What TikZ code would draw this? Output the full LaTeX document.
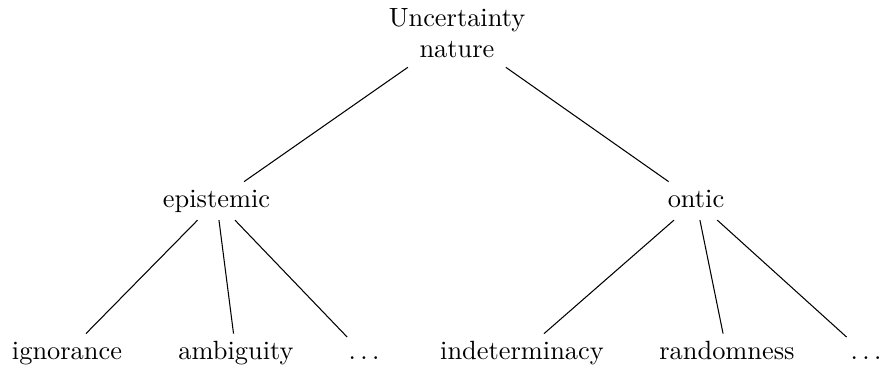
\documentclass[tikz,border=0pt]{standalone}
\begin{document}
\begin{tikzpicture}[x=0.379pt,y=-0.379pt,
  lbl/.style={anchor=base,inner sep=3.33pt,text height=1.5ex,text depth=.25ex},
  dotslbl/.style={lbl,text height=1.2ex},
  edge/.style={draw=black,line width=0.4pt}]
\useasboundingbox (0,0) rectangle (881,367);
\node[align=center,inner sep=3.33pt] (root) at (457,33) {Uncertainty\\nature};
\node[lbl] (epi) at (216.5,208) {epistemic};
\node[lbl] (ont) at (696,208) {ontic};
\node[lbl] (ign) at (67,360) {ignorance};
\node[lbl] (amb) at (236,360) {ambiguity};
\node[dotslbl] (d1) at (364,360) {$\ldots$};
\node[lbl] (ind) at (522,360) {indeterminacy};
\node[lbl] (ran) at (727,360) {randomness};
\node[dotslbl] (d2) at (866,360) {$\ldots$};
\draw[edge] (root) -- (epi);
\draw[edge] (root) -- (ont);
\draw[edge] (epi) -- (ign);
\draw[edge] (epi) -- (amb);
\draw[edge] (epi) -- (d1);
\draw[edge] (ont) -- (ind);
\draw[edge] (ont) -- (ran);
\draw[edge] (ont) -- (d2);
\end{tikzpicture}
\end{document}
